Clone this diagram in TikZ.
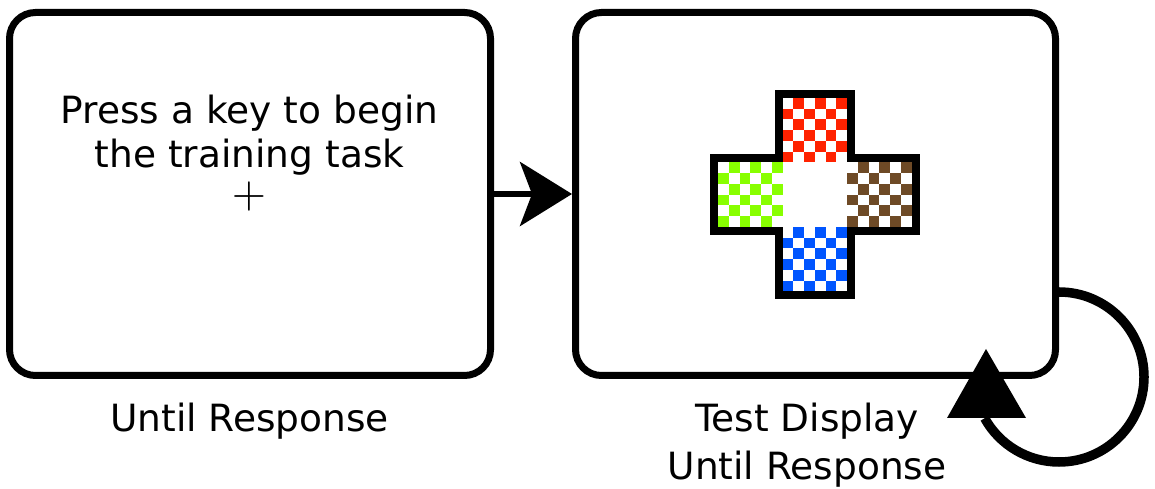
\documentclass[tikz,border=0pt]{standalone}
\usepackage{graphicx}
\usepackage[no-math]{fontspec}
\setmainfont{DejaVu Sans}
\usetikzlibrary{arrows.meta}
\definecolor{redc}{HTML}{FF2200}
\definecolor{greenc}{HTML}{88FF00}
\definecolor{bluec}{HTML}{0055FF}
\definecolor{brownc}{HTML}{6E4A26}
\tikzset{
  screen/.style={draw, line width=7pt, rounded corners=26pt, inner sep=0pt, minimum height=363pt},
  txt/.style={font=\fontsize{37.5}{45}\selectfont, anchor=base, inner sep=0pt},
  conn/.style={line width=6pt, -{Stealth[length=52pt, width=64pt, inset=12pt]}},
  loopline/.style={line width=9.5pt},
  crossline/.style={line width=8pt, line join=miter}
}
\begin{document}
\begin{tikzpicture}[x=1pt, y=1pt]
\useasboundingbox (0,0) rectangle (1155,489);
% screens
\node[screen, minimum width=481pt] (L) at (250,295) {};
\node[screen, minimum width=480pt] (R) at (815.5,295) {};
% texts in left screen
\node[txt] (t1) at (249.5,365) {Press a key to begin};
\node[txt] (t2) at (249.5,321) {the training task};
\node[inner sep=0pt] (fix) at (249,292) {\scalebox{4.4}{$+$}};
% labels
\node[txt] (lab1) at (249.5,57) {Until Response};
\node[txt] (lab2) at (807,57) {Test Display};
\node[txt] (lab3) at (807,9) {Until Response};
% arrow between screens
\draw[conn] (L.east) -- (R.west);
% checkerboard cross
\def\s{10.75}
\foreach \col/\cx/\ry in {redc/6/0, greenc/0/6, brownc/12/6, bluec/6/12} {
  \foreach \i in {0,...,5} {
    \foreach \j in {0,...,5} {
      \pgfmathtruncatemacro\p{mod(\i+\j,2)}
      \ifnum\p=1
        \fill[\col] ({718+(\cx+\i)*\s},{391-(\ry+\j)*\s}) rectangle ++(\s,-\s);
      \fi
    }
  }
}
\def\xL{718}\def\xA{782.5}\def\xB{847}\def\xR{911.5}
\def\yT{391}\def\yA{326.5}\def\yB{262}\def\yD{197.5}
\def\d{4}
\draw[crossline] (\xA-\d,\yT+\d) -- (\xB+\d,\yT+\d) -- (\xB+\d,\yA+\d) -- (\xR+\d,\yA+\d)
  -- (\xR+\d,\yB-\d) -- (\xB+\d,\yB-\d) -- (\xB+\d,\yD-\d) -- (\xA-\d,\yD-\d)
  -- (\xA-\d,\yB-\d) -- (\xL-\d,\yB-\d) -- (\xL-\d,\yA+\d) -- (\xA-\d,\yA+\d) -- cycle;
% self loop on the right screen
\coordinate (ls) at ([yshift=-98pt]R.east);
\draw[loopline] (ls) arc[start angle=90, end angle=-151, radius=85] coordinate (le);
\fill (986,140) -- (947,71) -- (1026,71) -- cycle;
\end{tikzpicture}
\end{document}
